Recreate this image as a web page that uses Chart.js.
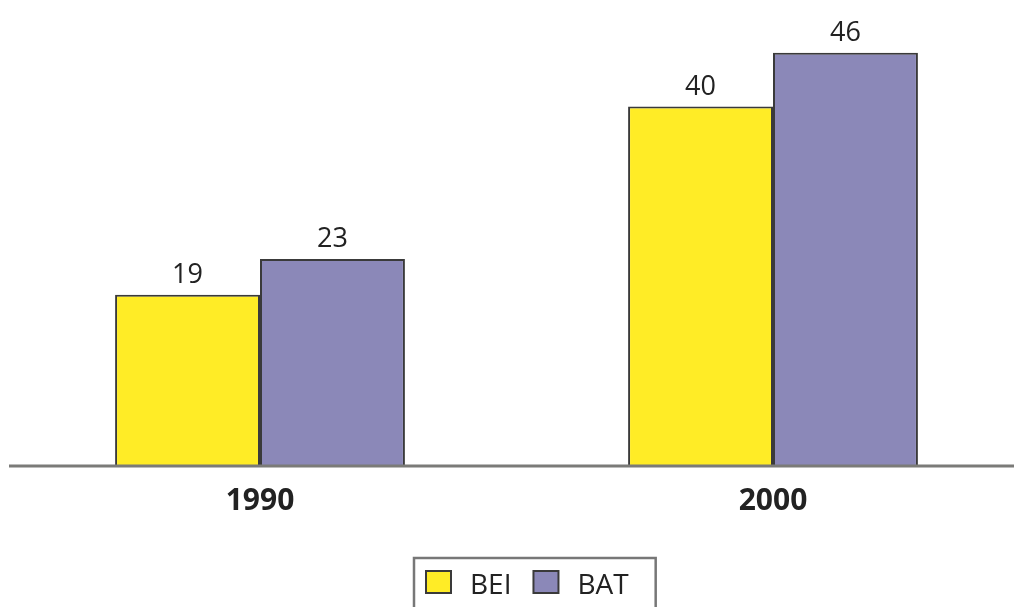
<!DOCTYPE html>
<html>
<head>
<meta charset="utf-8">
<script src="https://cdn.jsdelivr.net/npm/chart.js@4/dist/chart.umd.min.js"></script>
<style>
  html, body { margin: 0; padding: 0; background: #fff; }
  #wrap { width: 1014px; height: 607px; overflow: hidden; position: relative; }
  #wrap canvas { position: absolute; left: 0; top: 0; }
</style>
</head>
<body>
<div id="wrap"><canvas id="chart" width="1040" height="607"></canvas></div>
<script>
const years = ["1990", "2000"];
const bei = [19, 40];
const bat = [23, 46];
const seriesNames = ["BEI", "BAT"];
const seriesColors = ["#ffec26", "#8b88b8"];

const fontFamily = "'Open Sans', 'DejaVu Sans', sans-serif";

// value labels above each bar
const valueLabels = {
  id: "valueLabels",
  afterDatasetsDraw(chart) {
    const ctx = chart.ctx;
    ctx.save();
    ctx.font = "27px " + fontFamily;
    ctx.fillStyle = "#222";
    ctx.textAlign = "center";
    ctx.textBaseline = "alphabetic";
    chart.data.datasets.forEach((ds, i) => {
      chart.getDatasetMeta(i).data.forEach((bar, j) => {
        ctx.fillText(String(ds.data[j]), bar.x, bar.y - 12);
      });
    });
    ctx.restore();
  }
};

// baseline and boxed legend
const decorations = {
  id: "decorations",
  afterDraw(chart) {
    const ctx = chart.ctx;
    const y0 = chart.scales.y.getPixelForValue(0);
    ctx.save();
    ctx.strokeStyle = "#7b7b78";
    ctx.lineWidth = 3;
    ctx.beginPath();
    ctx.moveTo(9, y0 + 1);
    ctx.lineTo(chart.width, y0 + 1);
    ctx.stroke();

    // legend
    ctx.font = "28px " + fontFamily;
    ctx.textBaseline = "alphabetic";
    ctx.textAlign = "left";
    let x = 426;
    const top = 571;
    chart.data.datasets.forEach((ds) => {
      ctx.fillStyle = ds.backgroundColor;
      ctx.fillRect(x, top, 25, 22);
      ctx.strokeStyle = "#3a3a3a";
      ctx.lineWidth = 2;
      ctx.strokeRect(x, top, 25, 22);
      x += 25 + 19;
      ctx.fillStyle = "#222";
      ctx.fillText(ds.label, x, 594);
      x += ctx.measureText(ds.label).width + 22;
    });
    ctx.strokeStyle = "#777";
    ctx.lineWidth = 2.5;
    ctx.beginPath();
    ctx.moveTo(414, 620);
    ctx.lineTo(414, 558);
    ctx.lineTo(x + 5, 558);
    ctx.lineTo(x + 5, 620);
    ctx.stroke();
    ctx.restore();
  }
};

new Chart(document.getElementById("chart"), {
  type: "bar",
  data: {
    labels: years,
    datasets: [
      { label: seriesNames[0], data: bei, backgroundColor: seriesColors[0] },
      { label: seriesNames[1], data: bat, backgroundColor: seriesColors[1] }
    ]
  },
  options: {
    responsive: false,
    animation: false,
    devicePixelRatio: 1,
    layout: { padding: { left: 3.5, right: 10.5, top: 17, bottom: 78 } },
    datasets: {
      bar: {
        barPercentage: 1,
        categoryPercentage: 0.565,
        borderColor: "#3a3a3a",
        borderWidth: 2
      }
    },
    plugins: {
      legend: { display: false },
      tooltip: { enabled: false }
    },
    scales: {
      x: {
        grid: { display: false },
        border: { display: false },
        ticks: {
          padding: 10,
          color: "#222",
          font: { family: fontFamily, size: 30, weight: "bold" }
        }
      },
      y: {
        display: false,
        min: 0,
        max: 50
      }
    }
  },
  plugins: [valueLabels, decorations]
});
</script>
</body>
</html>
